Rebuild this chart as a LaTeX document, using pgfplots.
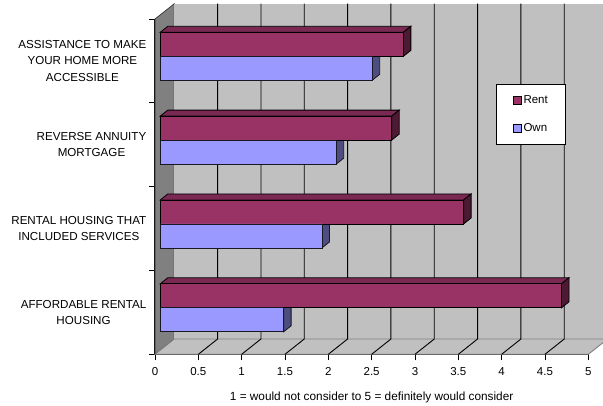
\documentclass[border=0pt]{standalone}
\usepackage{fontspec}
\setmainfont{Liberation Sans}
\usepackage{pgfplots}
\pgfplotsset{compat=1.18}
\definecolor{rentfront}{HTML}{993366}
\definecolor{renttop}{HTML}{7A2952}
\definecolor{rentside}{HTML}{4D1A33}
\definecolor{ownfront}{HTML}{9999FF}
\definecolor{ownside}{HTML}{4D4D80}
\definecolor{wallgrey}{HTML}{C0C0C0}
\definecolor{sidegrey}{HTML}{808080}

% Bar depth in axis units
\newcommand{\dpx}{0.0865}
\newcommand{\dpy}{0.0716}
\newcommand{\bh}{0.2866}

% Top and end faces of a rent bar: value, lower edge
\newcommand{\rentfaces}[2]{%
  \pgfmathsetmacro{\xa}{#1+\dpx}%
  \pgfmathsetmacro{\ya}{#2+\bh}%
  \pgfmathsetmacro{\yb}{#2+\bh+\dpy}%
  \pgfmathsetmacro{\yc}{#2+\dpy}%
  \addplot[fill=renttop,draw=black,line width=0.8pt,forget plot] coordinates {(0,\ya) (#1,\ya) (\xa,\yb) (\dpx,\yb)} -- cycle;
  \addplot[fill=rentside,draw=black,line width=0.8pt,forget plot] coordinates {(#1,#2) (#1,\ya) (\xa,\yb) (\xa,\yc)} -- cycle;
}
% End face of an own bar: value, lower edge
\newcommand{\ownfaces}[2]{%
  \pgfmathsetmacro{\xa}{#1+\dpx}%
  \pgfmathsetmacro{\ya}{#2+\bh}%
  \pgfmathsetmacro{\yb}{#2+\bh+\dpy}%
  \pgfmathsetmacro{\yc}{#2+\dpy}%
  \addplot[fill=ownside,draw=black!70!ownside,line width=0.8pt,forget plot] coordinates {(#1,#2) (#1,\ya) (\xa,\yb) (\xa,\yc)} -- cycle;
}

\begin{document}
\begin{tikzpicture}[x=1pt,y=1pt]
\useasboundingbox (0,0) rectangle (603,406);
\clip (0,0) rectangle (603,406);

% Chart box: back wall, side wall, floor, gridlines and the two axes
\begin{axis}[
  at={(155pt,51.7pt)}, anchor=south west,
  scale only axis, width=433.3pt, height=335.3pt,
  xmin=0, xmax=5, ymin=0, ymax=4,
  clip=false,
  axis x line*=bottom, axis y line*=left,
  axis line style={line width=1pt,black,-},
  xtick={0,0.5,...,5},
  xticklabels={0,0.5,1,1.5,2,2.5,3,3.5,4,4.5,5},
  ytick={0,1,2,3,4}, yticklabels={},
  tick style={black,line width=0.7pt},
  tick align=outside,
  major tick length=6pt,
  tick label style={font=\fontsize{11.5}{13}\selectfont},
  xticklabel style={yshift=-4pt},
  extra y ticks={0.5,1.5,2.5,3.5},
  extra y tick labels={AFFORDABLE RENTAL\\HOUSING,RENTAL HOUSING THAT\\INCLUDED SERVICES,REVERSE ANNUITY\\MORTGAGE,ASSISTANCE TO MAKE\\YOUR HOME MORE\\ACCESSIBLE},
  extra y tick style={
    major tick length=0pt,
    yticklabel style={align=center,anchor=east,inner xsep=0pt,xshift=-8.5pt,font=\fontsize{11.6}{16.5}\selectfont}
  },
  xlabel={1 = would not consider to 5 = definitely would consider},
  xlabel style={font=\fontsize{11.8}{13}\selectfont,yshift=-9pt},
]
% side wall
\addplot[fill=sidegrey,draw=black!70!sidegrey,line width=0.6pt,forget plot] coordinates {(0,0) (0.2227,0.1826) (0.2227,4.1826) (0,4)} -- cycle;
% back wall
\addplot[fill=wallgrey,draw=none,forget plot] coordinates {(0.2227,0.1826) (5.2227,0.1826) (5.2227,4.1826) (0.2227,4.1826)} -- cycle;
% floor
\addplot[fill=wallgrey,draw=sidegrey,line width=0.9pt,forget plot] coordinates {(0,0) (5,0) (5.2227,0.1826) (0.2227,0.1826)} -- cycle;
% gridlines running over the floor and up the back wall
\addplot[black,line width=0.9pt,unbounded coords=jump,forget plot] coordinates {
  (0.5,0) (0.7227,0.1826) (0.7227,4.1826) (nan,nan)
  (1,0) (1.2227,0.1826) (1.2227,4.1826) (nan,nan)
  (1.5,0) (1.7227,0.1826) (1.7227,4.1826) (nan,nan)
  (2,0) (2.2227,0.1826) (2.2227,4.1826) (nan,nan)
  (2.5,0) (2.7227,0.1826) (2.7227,4.1826) (nan,nan)
  (3,0) (3.2227,0.1826) (3.2227,4.1826) (nan,nan)
  (3.5,0) (3.7227,0.1826) (3.7227,4.1826) (nan,nan)
  (4,0) (4.2227,0.1826) (4.2227,4.1826) (nan,nan)
  (4.5,0) (4.7227,0.1826) (4.7227,4.1826)
};
\end{axis}

% Bars, on a plane set slightly in from the front edge of the floor
\begin{axis}[
  at={(160.3pt,56.3pt)}, anchor=south west,
  scale only axis, width=433.3pt, height=335.3pt,
  xmin=0, xmax=5, ymin=0, ymax=4,
  clip=false,
  hide axis,
  bar width=0.2866,
  legend style={
    at={(531.3pt-160.3pt,406pt-114.3pt-56.3pt)}, anchor=center,
    draw=black, fill=white, line width=0.8pt,
    inner xsep=16pt, inner ysep=9pt,
    row sep=15pt,
    font=\fontsize{11.5}{13}\selectfont,
    legend cell align=left,
    /tikz/every even column/.style={column sep=0pt},
    cells={anchor=west},
  },
  legend image code/.code={
    \draw[#1,line width=0.7pt,draw=black] (0pt,-4pt) rectangle (8pt,4pt);
  },
]
\ownfaces{2.445}{3.2134}
\ownfaces{2.03}{2.2134}
\ownfaces{1.865}{1.2134}
\ownfaces{1.423}{0.2134}
\rentfaces{2.805}{3.5}
\rentfaces{2.67}{2.5}
\rentfaces{3.50}{1.5}
\rentfaces{4.63}{0.5}

\addplot[xbar,bar shift=0.1433,fill=rentfront,draw=black,line width=0.8pt] coordinates {(4.63,0.5) (3.50,1.5) (2.67,2.5) (2.805,3.5)};
\addlegendentry{Rent}
\addplot[xbar,bar shift=-0.1433,fill=ownfront,draw=black!70!ownside,line width=0.8pt] coordinates {(1.423,0.5) (1.865,1.5) (2.03,2.5) (2.445,3.5)};
\addlegendentry{Own}
\end{axis}
\end{tikzpicture}
\end{document}
